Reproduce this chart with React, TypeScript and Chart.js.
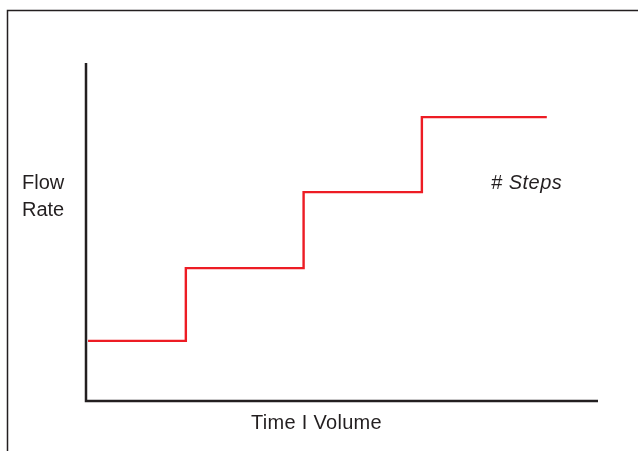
import React, { useEffect, useRef } from "react";
import { Chart, registerables } from "chart.js";

Chart.register(...registerables);

const stepX: number[] = [0.4, 19.5, 42.5, 65.6, 90.0];
const stepY: number[] = [17.8, 39.3, 61.8, 84.0, 84.0];
const yTitleLines: string[] = ["Flow", "Rate"];
const xTitle = "Time I Volume";
const annotation = "# Steps";

const INK = "#231f20";
const RED = "#ed1c24";

const decorPlugin = {
  id: "decor",
  beforeDatasetsDraw(chart: any) {
    const { ctx, chartArea } = chart;
    const { left, right, top, bottom } = chartArea;
    ctx.save();
    // outer frame
    ctx.strokeStyle = INK;
    ctx.lineWidth = 1.5;
    ctx.strokeRect(7.5, 10.5, 700, 500);
    // axes
    ctx.lineWidth = 2.5;
    ctx.beginPath();
    ctx.moveTo(left, top);
    ctx.lineTo(left, bottom + 1.25);
    ctx.moveTo(left - 1.25, bottom);
    ctx.lineTo(right, bottom);
    ctx.stroke();
    // texts
    ctx.fillStyle = INK;
    ctx.textBaseline = "alphabetic";
    ctx.textAlign = "left";
    ctx.font = '20px "Liberation Sans", Arial, sans-serif';
    ctx.fillText(yTitleLines[0], 22, 189);
    ctx.fillText(yTitleLines[1], 22, 216);
    (ctx as any).letterSpacing = "0.3px";
    ctx.fillText(xTitle, 251, 429);
    (ctx as any).letterSpacing = "0.5px";
    ctx.font = 'italic 20px "Liberation Sans", Arial, sans-serif';
    ctx.fillText(annotation, 491, 189);
    (ctx as any).letterSpacing = "0px";
    ctx.restore();
  },
};

export default function App() {
  const ref = useRef<HTMLCanvasElement | null>(null);
  useEffect(() => {
    if (!ref.current) return;
    const chart = new Chart(ref.current, {
      type: "line",
      data: {
        datasets: [
          {
            data: stepX.map((x, i) => ({ x, y: stepY[i] })),
            borderColor: RED,
            borderWidth: 2.4,
            pointRadius: 0,
            stepped: "before",
            fill: false,
            borderCapStyle: "butt",
            borderJoinStyle: "miter",
          },
        ],
      },
      options: {
        animation: false,
        responsive: false,
        maintainAspectRatio: false,
        devicePixelRatio: 1,
        layout: { padding: { left: 86, right: 40, top: 63, bottom: 50 } },
        plugins: { legend: { display: false }, tooltip: { enabled: false }, title: { display: false } },
        scales: {
          x: { type: "linear", min: 0, max: 100, display: false },
          y: { type: "linear", min: 0, max: 100, display: false },
        },
      },
      plugins: [decorPlugin],
    } as any);
    return () => chart.destroy();
  }, []);
  return (
    <div style={{ position: "fixed", left: 0, top: 0, width: 638, height: 451, background: "#fff" }}>
      <canvas ref={ref} width={638} height={451} style={{ width: 638, height: 451, display: "block" }} />
    </div>
  );
}
